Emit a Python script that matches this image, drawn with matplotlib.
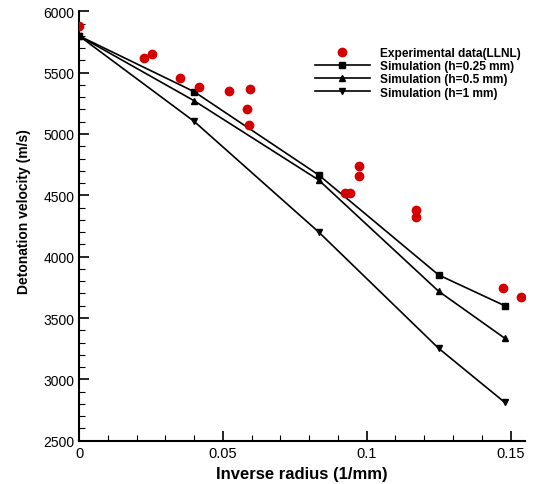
import matplotlib
matplotlib.use("Agg")
import matplotlib.pyplot as plt
from matplotlib.ticker import MultipleLocator

plt.rcParams['font.family'] = ['Liberation Sans', 'DejaVu Sans']

# experimental points (LLNL)
exp_x = [0.0, 0.0226, 0.0252, 0.0351, 0.0418, 0.052, 0.0596, 0.0585, 0.059,
         0.0924, 0.0943, 0.0973, 0.0973, 0.1172, 0.1172, 0.1473, 0.1537]
exp_v = [5880, 5617, 5652, 5456, 5386, 5350, 5367, 5204, 5073,
         4522, 4522, 4742, 4655, 4383, 4326, 3745, 3669]

# simulations
sim_x = [0.0, 0.04, 0.0833, 0.125, 0.148]
sim_h025 = [5800, 5345, 4666, 3851, 3600]
sim_h05 = [5800, 5271, 4625, 3718, 3335]
sim_h1 = [5800, 5103, 4201, 3253, 2812]

fig = plt.figure(figsize=(5.34, 4.85), dpi=100)
ax = fig.add_axes([0.148, 0.0893, 0.835, 0.8853])

ax.plot(exp_x, exp_v, 'o', color='#d40000', markersize=6, linestyle='none',
        label='Experimental data(LLNL)', zorder=3)
ax.plot(sim_x, sim_h025, '-s', color='black', lw=1.2, markersize=5,
        label='Simulation (h=0.25 mm)')
ax.plot(sim_x, sim_h05, '-^', color='black', lw=1.2, markersize=5,
        label='Simulation (h=0.5 mm)')
ax.plot(sim_x, sim_h1, '-v', color='black', lw=1.2, markersize=5,
        label='Simulation (h=1 mm)')

ax.set_xlim(0, 0.155)
ax.set_ylim(2500, 6000)
ax.xaxis.set_major_locator(MultipleLocator(0.05))
ax.xaxis.set_minor_locator(MultipleLocator(0.01))
ax.yaxis.set_major_locator(MultipleLocator(500))
ax.yaxis.set_minor_locator(MultipleLocator(100))
ax.set_xticks([0, 0.05, 0.1, 0.15])
ax.set_xticklabels(['0', '0.05', '0.1', '0.15'])

for s in ['top', 'right']:
    ax.spines[s].set_visible(False)
for s in ['left', 'bottom']:
    ax.spines[s].set_linewidth(1.5)

ax.tick_params(which='major', direction='in', length=7, width=1.2, labelsize=10)
ax.tick_params(axis='x', which='major', labelsize=10.5)
ax.tick_params(which='minor', direction='in', length=4, width=0.8)

ax.set_xlabel('Inverse radius (1/mm)', fontsize=12, fontweight='bold', labelpad=5)
ax.set_ylabel('Detonation velocity (m/s)', fontsize=10, fontweight='bold')
# label sits a little above the axis centre in the original
ax.yaxis.set_label_coords(-0.108, 0.536)

leg = ax.legend(loc='upper left', bbox_to_anchor=(315 / 534, 1 - 48 / 485),
                bbox_transform=fig.transFigure, frameon=False,
                prop={'size': 8.6, 'weight': 'bold'}, handlelength=4.6,
                handletextpad=0.85, labelspacing=0.1, borderpad=0,
                borderaxespad=0)

fig.savefig('out.png', dpi=100)
